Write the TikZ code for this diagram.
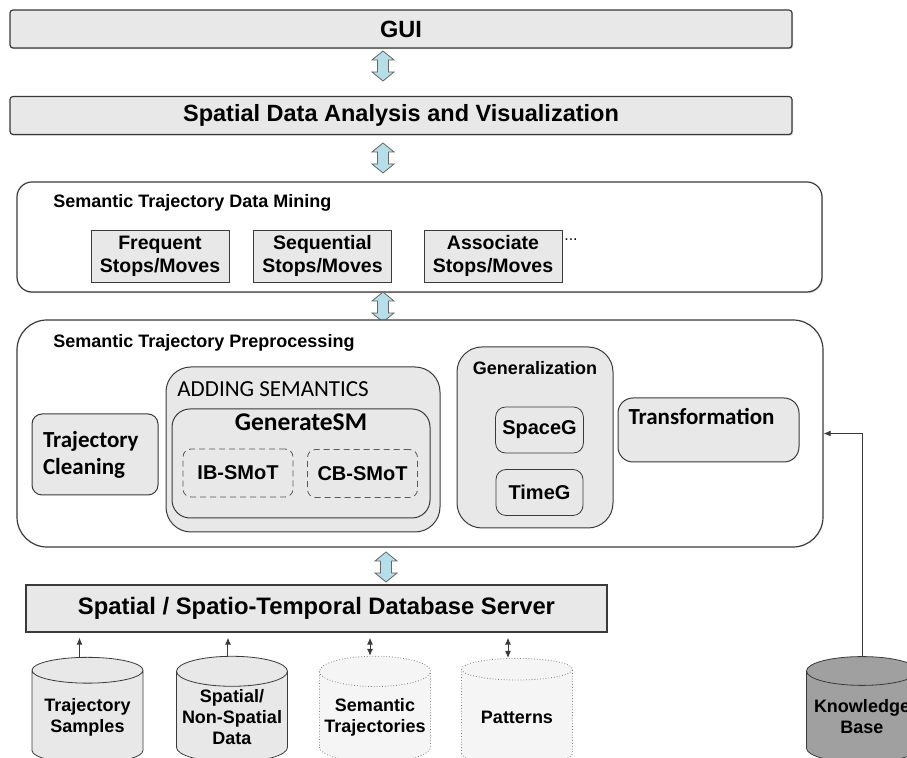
\documentclass[tikz,border=0pt]{standalone}
\usepackage{fontspec}
\setmainfont{Liberation Sans}
\newfontfamily\calibri{Carlito}
\usetikzlibrary{shapes.geometric,arrows.meta,calc,shadows}

\definecolor{boxgray}{HTML}{E8E8E8}
\definecolor{linegray}{HTML}{3A3A3A}
\definecolor{arrowblue}{HTML}{B7DEE8}
\definecolor{kbgray}{HTML}{A0A0A0}

\tikzset{
  layer/.style={draw=linegray, fill=boxgray, rounded corners=1.5pt, line width=0.6pt,
    minimum width=391pt, minimum height=19pt, font=\bfseries\fontsize{11.75}{14}\selectfont,
    drop shadow={shadow xshift=0.6pt, shadow yshift=-0.6pt, opacity=0.35}},
  module/.style={draw=linegray, fill=white, line width=0.6pt},
  title/.style={inner sep=0pt, font=\bfseries\fontsize{9}{11}\selectfont},
  opbox/.style={draw=linegray, fill=boxgray, minimum width=69pt, minimum height=26pt,
    inner sep=0pt, align=center, font=\bfseries\fontsize{9.75}{11.5}\selectfont},
  calbox/.style={draw=linegray, fill=boxgray, line width=0.5pt, inner sep=0pt,
    font=\calibri\bfseries\fontsize{11.5}{13.5}\selectfont},
  smot/.style={draw=gray!70!black, densely dashed, rounded corners=4pt, minimum width=55pt,
    minimum height=24pt, font=\bfseries\fontsize{10}{12}\selectfont},
  gbox/.style={draw=linegray, fill=boxgray, rounded corners=5pt, minimum width=43.5pt,
    minimum height=23pt, font=\bfseries\fontsize{10}{12}\selectfont},
  store/.style={cylinder, shape border rotate=90, aspect=0.3, draw=linegray, fill=boxgray,
    minimum width=55.5pt, minimum height=53pt, inner sep=0pt, align=center,
    font=\bfseries\fontsize{9}{10.5}\selectfont},
  result/.style={store, draw=gray, densely dotted, fill=gray!8},
  tip/.style={-{Latex[length=3.5pt,width=3pt]}, draw=linegray, line width=0.5pt},
  both/.style={{Latex[length=3.5pt,width=3pt]}-{Latex[length=3.5pt,width=3pt]},
    draw=linegray, line width=0.5pt},
  pics/fatarrow/.style={code={
    \draw[draw=gray!80!black, fill=arrowblue, line width=0.4pt]
      (0,-15) -- (11,-6) -- (5.5,-6) -- (5.5,6) -- (11,6) -- (0,15)
      -- (-11,6) -- (-5.5,6) -- (-5.5,-6) -- (-11,-6) -- cycle;}}
}

\begin{document}
\begin{tikzpicture}[x=0.5pt,y=-0.5pt]
\clip (0,0) rectangle (907,758);

% top layers
\node[layer] (gui) at (401,29) {GUI};
\node[layer] (sdav) at (401,115.5) {Spatial Data Analysis and Visualization};
\pic at (383,66) {fatarrow};
\pic at (383,158) {fatarrow};

% data mining
\node[module, rounded corners=7.5pt, minimum width=402.5pt, minimum height=55pt,
  drop shadow={shadow xshift=0.4pt, shadow yshift=-0.6pt, opacity=0.35}] (mining) at (419.5,237) {};
\node[title, anchor=west] (minetitle) at (53,203) {Semantic Trajectory Data Mining};
\node[opbox] (freq) at (160,256) {Frequent\\Stops/Moves};
\node[opbox] (seq) at (322.5,256) {Sequential\\Stops/Moves};
\node[opbox] (assoc) at (493,256) {Associate\\Stops/Moves};
\node[inner sep=0pt, font=\fontsize{8}{10}\selectfont] (more) at (571,240) {...};
\pic at (383,307) {fatarrow};

% preprocessing
\node[module, rounded corners=15pt, minimum width=403pt, minimum height=113.5pt] (prep) at (420,433.5) {};
\node[title, anchor=west] (preptitle) at (53,343) {Semantic Trajectory Preprocessing};
\node[calbox, rounded corners=5pt, minimum width=63pt, minimum height=40.5pt,
  text width=52pt, align=left] (clean) at (95,454.5) {Trajectory\\Cleaning};

\node[calbox, rounded corners=12.5pt, minimum width=137pt, minimum height=82.5pt] (addsem) at (303,449.5) {};
\node[anchor=west, inner sep=0pt, font=\calibri\fontsize{11.5}{13}\selectfont] (addtitle) at (177,389) {ADDING SEMANTICS};
\node[calbox, rounded corners=9pt, minimum width=129pt, minimum height=54.5pt] (gensm) at (301,463.5) {};
\node[inner sep=0pt, font=\calibri\bfseries\fontsize{12.75}{15}\selectfont] (gentitle) at (301,422) {GenerateSM};
\node[smot] (ib) at (238,473) {IB-SMoT};
\node[smot] (cb) at (362.5,473.5) {CB-SMoT};

\node[calbox, rounded corners=12.5pt, minimum width=78pt, minimum height=90.5pt] (genz) at (535,437.5) {};
\node[title] (genztitle) at (535,368) {Generalization};
\node[gbox] (spaceg) at (539.5,430) {SpaceG};
\node[gbox] (timeg) at (539.5,492.5) {TimeG};

\node[calbox, rounded corners=7.5pt, minimum width=90.5pt, minimum height=32pt,
  text width=80pt, align=left] (trans) at (708.5,430) {Transformation\\\mbox{}};
\pic at (386,567) {fatarrow};

% database and stores
\node[draw=linegray, fill=boxgray, line width=0.6pt, minimum width=290.5pt, minimum height=23.5pt,
  font=\bfseries\fontsize{11.9}{14}\selectfont] (db) at (316.5,608.5) {Spatial / Spatio-Temporal Database Server};

\node[store] (samples) at (87.5,717) {Trajectory\\Samples};
\node[store] (spatial) at (232,717) {Spatial/\\Non-Spatial\\Data};
\node[result] (semtraj) at (375,717) {Semantic\\Trajectories};
\node[result] (patterns) at (517,717) {Patterns};
\node[store, fill=kbgray] (kb) at (862,717) {Knowledge\\Base};

\draw[tip, shorten >=2.5pt] (samples.north) ++(-8,0) coordinate (s1) -- (s1 |- db.south);
\draw[tip, shorten >=2.5pt] (spatial.north) ++(-4,0) coordinate (s2) -- (s2 |- db.south);
\draw[both, shorten >=2.5pt] (semtraj.north) ++(-5,0) coordinate (s3) -- (s3 |- db.south);
\draw[both, shorten >=2.5pt] (patterns.north) ++(-9,0) coordinate (s4) -- (s4 |- db.south);
\draw[tip] (kb.north) |- (prep.east);

\end{tikzpicture}
\end{document}
